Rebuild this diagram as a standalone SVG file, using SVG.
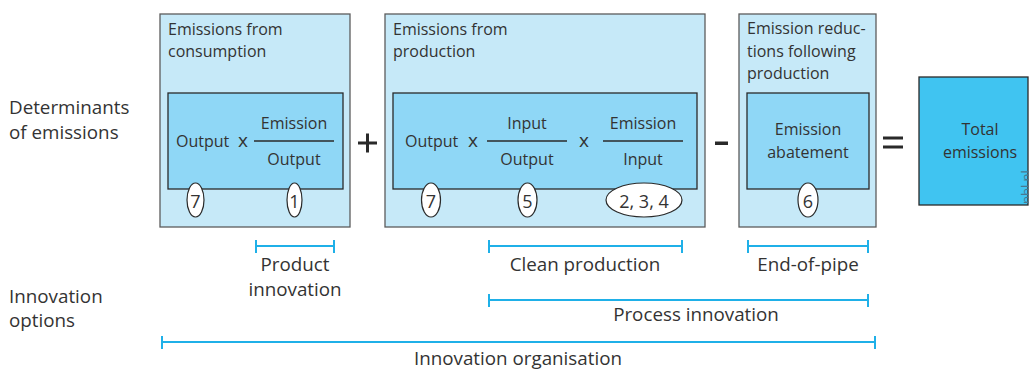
<svg xmlns="http://www.w3.org/2000/svg" width="1029" height="369" viewBox="0 0 1029 369">
  <style>
    text { font-family: "Open Sans", "Noto Sans", "Liberation Sans", sans-serif; font-size: 16px; fill: #333333; }
    .mid { text-anchor: middle; }
    .big { font-size: 18.8px; }
    .num { font-size: 18px; }
    .times { font-size: 19px; }
    .outer { fill: #c6e9f8; stroke: #5c5c5c; stroke-width: 1.3; }
    .inner { fill: #8fd7f6; stroke: #2a2a2a; stroke-width: 1.3; }
    .total { fill: #40c4f1; stroke: #2a2a2a; stroke-width: 1.3; }
    .frac { stroke: #2a2a2a; stroke-width: 1.3; }
    .oval { fill: #ffffff; stroke: #2a2a2a; stroke-width: 1.2; }
    .op { fill: #2a2a2a; }
    .span { stroke: #1fb0e8; stroke-width: 2; fill: none; }
    .mark { font-size: 13px; fill: #4a7890; }
  </style>

  <rect width="1029" height="369" fill="#ffffff"/>

  <!-- row labels -->
  <g id="label-determinants">
    <text class="big" x="9" y="114">Determinants</text>
    <text class="big" x="9" y="139">of emissions</text>
  </g>
  <g id="label-innovation">
    <text class="big" x="9" y="303">Innovation</text>
    <text class="big" x="9" y="327">options</text>
  </g>

  <!-- consumption term -->
  <g id="consumption">
    <rect class="outer" x="160" y="14" width="190" height="213"/>
    <text x="168" y="34.5">Emissions from</text>
    <text x="168" y="57">consumption</text>
    <rect class="inner" x="168" y="93" width="175" height="96"/>
    <text x="176" y="146.5">Output</text>
    <text class="mid times" x="243" y="146.5">x</text>
    <text class="mid" x="294" y="129">Emission</text>
    <line class="frac" x1="254" y1="141" x2="334" y2="141"/>
    <text class="mid" x="294" y="164.5">Output</text>
    <ellipse class="oval" cx="195.5" cy="200" rx="8.5" ry="17"/>
    <text class="mid num" x="195.5" y="208">7</text>
    <ellipse class="oval" cx="294.5" cy="200" rx="7.5" ry="17"/>
    <text class="mid num" x="294.5" y="208">1</text>
  </g>

  <!-- production term -->
  <g id="production">
    <rect class="outer" x="385" y="14" width="320" height="213"/>
    <text x="393" y="34.5">Emissions from</text>
    <text x="393" y="57">production</text>
    <rect class="inner" x="393" y="93" width="304" height="96"/>
    <text x="405" y="146.5">Output</text>
    <text class="mid times" x="473" y="146.5">x</text>
    <text class="mid" x="527" y="129">Input</text>
    <line class="frac" x1="487" y1="141" x2="567" y2="141"/>
    <text class="mid" x="527" y="164.5">Output</text>
    <text class="mid times" x="584" y="146.5">x</text>
    <text class="mid" x="643" y="129">Emission</text>
    <line class="frac" x1="603" y1="141" x2="683" y2="141"/>
    <text class="mid" x="643" y="164.5">Input</text>
    <ellipse class="oval" cx="431" cy="200" rx="9.5" ry="17"/>
    <text class="mid num" x="431" y="208">7</text>
    <ellipse class="oval" cx="527.5" cy="200" rx="9.5" ry="17"/>
    <text class="mid num" x="527.5" y="208">5</text>
    <ellipse class="oval" cx="644" cy="200" rx="38" ry="17"/>
    <text class="mid num" x="644" y="208">2, 3, 4</text>
  </g>

  <!-- end-of-pipe reduction term -->
  <g id="reduction">
    <rect class="outer" x="739" y="14" width="137" height="213"/>
    <text x="747" y="34">Emission reduc-</text>
    <text x="747" y="56.5">tions following</text>
    <text x="747" y="78.5">production</text>
    <rect class="inner" x="747" y="93" width="122" height="96"/>
    <text class="mid" x="808" y="135">Emission</text>
    <text class="mid" x="808" y="158">abatement</text>
    <ellipse class="oval" cx="808" cy="200" rx="10" ry="17"/>
    <text class="mid num" x="808" y="208">6</text>
  </g>

  <!-- result -->
  <g id="total">
    <rect class="total" x="919" y="77" width="109" height="128"/>
    <text class="mid" x="980" y="135">Total</text>
    <text class="mid" x="980" y="158">emissions</text>
    <text class="mark" transform="translate(1031 204) rotate(-90)">pbl.nl</text>
  </g>

  <!-- operators -->
  <g id="operators">
    <rect class="op" x="358" y="141.5" width="19" height="3"/>
    <rect class="op" x="366" y="133.5" width="3" height="19"/>
    <rect class="op" x="715" y="141.5" width="13" height="3.5"/>
    <rect class="op" x="883" y="136.5" width="20" height="3"/>
    <rect class="op" x="883" y="145.5" width="20" height="3"/>
  </g>

  <!-- innovation ranges -->
  <g id="connectors">
    <path class="span" d="M256 246H334M256 240V253M334 240V253"/>
    <path class="span" d="M489 246H682M489 240V253M682 240V253"/>
    <path class="span" d="M748 246H868M748 240V253M868 240V253"/>
    <path class="span" d="M489 300H868M489 294V307M868 294V307"/>
    <path class="span" d="M162 342H875M162 336V349M875 336V349"/>
  </g>
  <g id="range-labels">
    <text class="mid big" x="295" y="271">Product</text>
    <text class="mid big" x="295" y="296">innovation</text>
    <text class="mid big" x="585" y="271">Clean production</text>
    <text class="mid big" x="808" y="271">End-of-pipe</text>
    <text class="mid big" x="696" y="321">Process innovation</text>
    <text class="mid big" x="518" y="365">Innovation organisation</text>
  </g>
</svg>
